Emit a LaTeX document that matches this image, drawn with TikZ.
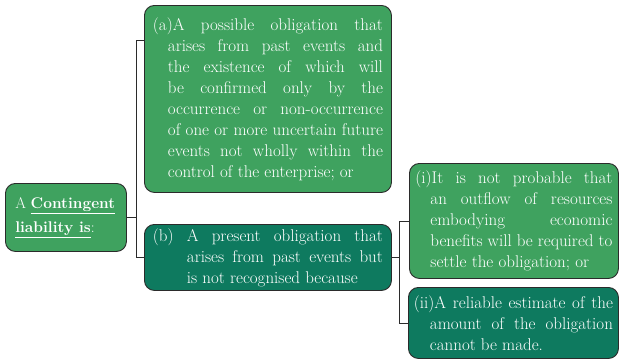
\documentclass[tikz,border=0pt]{standalone}
\usetikzlibrary{calc}
\definecolor{lgreen}{HTML}{3FA25F}
\definecolor{dgreen}{HTML}{0E7A5F}
\definecolor{edge}{HTML}{2B2B2B}
\newcommand\JL[2]{\makebox[#1][s]{#2}}
\newcommand\NL[2]{\makebox[#1][l]{#2}}
\begin{document}
\begin{tikzpicture}[x=1pt,y=-1pt,
  box/.style={draw=edge, line width=0.9pt, rounded corners=10pt, text=white,
    font=\fontsize{17}{21}\selectfont, inner sep=0pt, anchor=north west},
  light/.style={box, fill=lgreen},
  dark/.style={box, fill=dgreen},
  conn/.style={draw=edge, line width=0.8pt}]
\useasboundingbox (0,0) rectangle (619,360);
\fill[white] (0,0) rectangle (619,360);

\node[light, minimum width=121pt, minimum height=68pt, align=left,
  font=\fontsize{15.5}{24}\selectfont] (A) at (5,183)
  {A \underline{\textbf{Contingent}}\\
   \underline{\textbf{liability is}}:\hspace*{22pt}};

\node[light, minimum width=247pt, minimum height=187pt] (a) at (144,5)
  {\parbox{230pt}{\JL{230pt}{(a)A possible obligation that}\\
   \hspace*{15pt}\JL{215pt}{arises from past events and}\\
   \hspace*{15pt}\JL{215pt}{the existence of which will}\\
   \hspace*{15pt}\JL{215pt}{be confirmed only by the}\\
   \hspace*{15pt}\JL{215pt}{occurrence or non-occurrence}\\
   \hspace*{15pt}\JL{215pt}{of one or more uncertain future}\\
   \hspace*{15pt}\JL{215pt}{events not wholly within the}\\
   \hspace*{15pt}\NL{215pt}{control of the enterprise; or}}};

\node[dark, minimum width=247pt, minimum height=66pt] (b) at (144,224)
  {\parbox{230pt}{\JL{230pt}{(b) A present obligation that}\\
   \hspace*{34pt}\JL{196pt}{arises from past events but}\\
   \hspace*{34pt}\NL{196pt}{is not recognised because}}};

\node[light, minimum width=209pt, minimum height=115pt] (i) at (409,163)
  {\parbox{197pt}{\JL{197pt}{(i)It is not probable that}\\
   \hspace*{15pt}\JL{182pt}{an outflow of resources}\\
   \hspace*{15pt}\JL{182pt}{embodying economic}\\
   \hspace*{15pt}\JL{182pt}{benefits will be required to}\\
   \hspace*{15pt}\NL{182pt}{settle the obligation; or}}};

\node[dark, minimum width=210pt, minimum height=71pt] (ii) at (408,287)
  {\parbox{199pt}{\JL{199pt}{(ii)A reliable estimate of the}\\
   \hspace*{16pt}\JL{183pt}{amount of the obligation}\\
   \hspace*{16pt}\NL{183pt}{cannot be made.}}};

\coordinate (J1) at (136,0);
\coordinate (J2) at (399,0);
\draw[conn] (A.east) -- (A.east -| J1);
\draw[conn] ($(a.north west)+(0,35)$) -| (b.west -| J1) -- (b.west);
\draw[conn] (b.east) -- (b.east -| J2);
\draw[conn] ($(i.north west)+(0,58)$) -| (ii.west -| J2) -- (ii.west);
\end{tikzpicture}
\end{document}
